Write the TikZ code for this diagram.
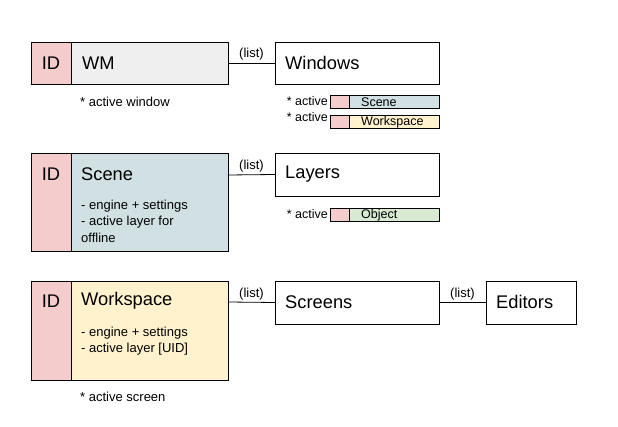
\documentclass[tikz,border=0pt]{standalone}
\usepackage{fontspec}
\setmainfont{Liberation Sans}
\definecolor{idpink}{HTML}{F4CCCC}
\definecolor{wmgray}{HTML}{EFEFEF}
\definecolor{sceneblue}{HTML}{D0E0E3}
\definecolor{wsyellow}{HTML}{FFF2CC}
\definecolor{objgreen}{HTML}{D9EAD3}
\begin{document}
\begin{tikzpicture}[x=1pt,y=-1pt,
  box/.style={draw=black,line width=0.8pt,anchor=north west,inner sep=0pt,outer sep=0pt},
  big/.style={font=\fontsize{18.3}{21}\selectfont,inner sep=0pt,anchor=west},
  small/.style={font=\fontsize{13}{16.3}\selectfont,inner sep=0pt,anchor=west,align=left},
  tiny/.style={font=\fontsize{12.5}{15}\selectfont,inner sep=0pt},
  conn/.style={draw=black,line width=0.8pt}]
\useasboundingbox (0,0) rectangle (618,427);
% ---- WM row
\node[box,fill=idpink,minimum width=40pt,minimum height=42pt] (id1) at (31,42) {};
\node[box,fill=wmgray,minimum width=157pt,minimum height=42pt] (wm) at (71,42) {};
\node[big] (wmt) at (82,63) {WM};
\node[big,anchor=center] (id1t) at (51,63) {ID};
\node[box,fill=white,minimum width=164pt,minimum height=42pt] (win) at (275,42) {};
\node[big] (wint) at (285,63) {Windows};
\draw[conn] (wm.east) -- (win.west) node[midway,above=2pt,small,anchor=south] (l1) {(list)};
\node[small] (aw) at (80,102) {* active window};
\node[tiny,anchor=east] (a1) at (328,101) {* active};
\node[box,fill=idpink,minimum width=19pt,minimum height=13pt] (c1a) at (330,95) {};
\node[box,fill=sceneblue,minimum width=90pt,minimum height=13pt] (c1b) at (349,95) {};
\node[tiny,anchor=west] at (361,102) {Scene};
\node[tiny,anchor=east] (a2) at (328,117) {* active};
\node[box,fill=idpink,minimum width=19pt,minimum height=13pt] (c2a) at (330,115) {};
\node[box,fill=wsyellow,minimum width=90pt,minimum height=13pt] (c2b) at (349,115) {};
\node[tiny,anchor=west] at (361,122) {Workspace};
% ---- Scene row
\node[box,fill=idpink,minimum width=40pt,minimum height=98pt] (id2) at (31,153) {};
\node[box,fill=sceneblue,minimum width=157pt,minimum height=98pt] (sc) at (71,153) {};
\node[big,anchor=center] (id2t) at (51,174) {ID};
\node[big] (sct) at (81,174) {Scene};
\node[small,anchor=north west] (scd) at (81,200) {- engine + settings\\- active layer for\\offline};
\node[box,fill=white,minimum width=164pt,minimum height=43pt] (lay) at (275,153) {};
\node[big] (layt) at (285,174) {Layers};
\draw[conn] (228,175) -- (lay.west) node[midway,above=2pt,small,anchor=south] (l2) {(list)};
\node[tiny,anchor=east] (a3) at (328,214) {* active};
\node[box,fill=idpink,minimum width=19pt,minimum height=13pt] (c3a) at (330,208) {};
\node[box,fill=objgreen,minimum width=90pt,minimum height=13pt] (c3b) at (349,208) {};
\node[tiny,anchor=west] at (361,215) {Object};
% ---- Workspace row
\node[box,fill=idpink,minimum width=40pt,minimum height=99pt] (id3) at (31,281) {};
\node[box,fill=wsyellow,minimum width=157pt,minimum height=99pt] (ws) at (71,281) {};
\node[big,anchor=center] (id3t) at (51,301) {ID};
\node[big] (wst) at (81,301) {Workspace};
\node[small,anchor=north west] (wsd) at (81,327) {- engine + settings\\- active layer [UID]};
\node[box,fill=white,minimum width=164pt,minimum height=43pt] (scr) at (275,281) {};
\node[big] (scrt) at (285,302) {Screens};
\node[box,fill=white,minimum width=90pt,minimum height=43pt] (ed) at (486,281) {};
\node[big] (edt) at (496,302) {Editors};
\draw[conn] (228,302) -- (scr.west) node[midway,above=2pt,small,anchor=south] (l3) {(list)};
\draw[conn] (scr.east) -- (ed.west) node[midway,above=2pt,small,anchor=south] (l4) {(list)};
\node[small] (as) at (80,397) {* active screen};
\end{tikzpicture}
\end{document}
